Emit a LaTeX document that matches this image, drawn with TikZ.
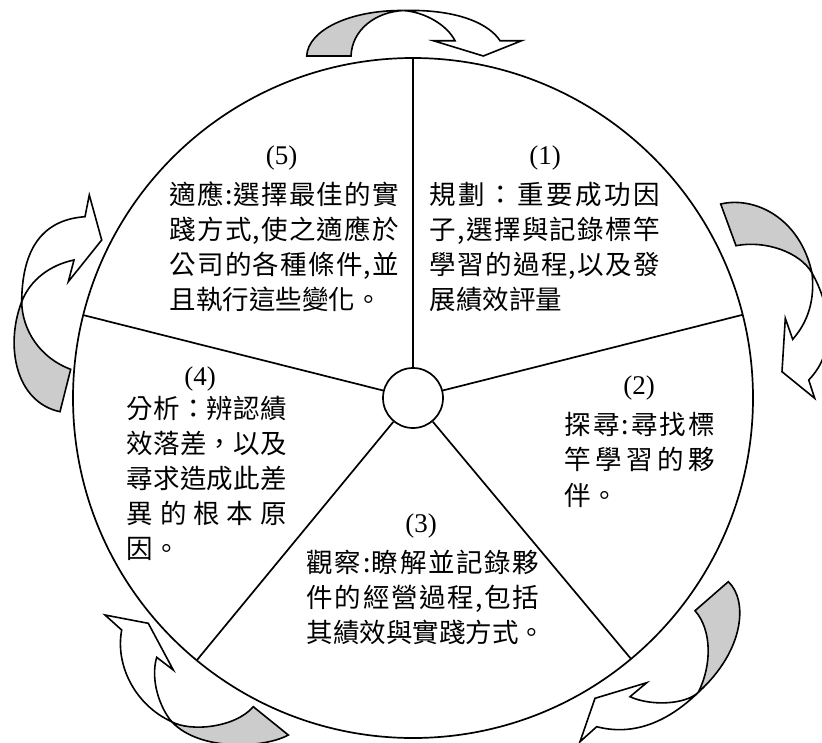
\documentclass[tikz,border=0pt]{standalone}
\usepackage{fontspec}
\setmainfont{Liberation Serif}
\newfontfamily\cjk{Noto Sans CJK TC}
\makeatletter
\def\spr#1#2{\makebox[#1][s]{\spr@a#2\relax}}
\def\spr@a#1{#1\spr@b}
\def\spr@b#1{\ifx\relax#1\else\hfil#1\expandafter\spr@b\fi}
\makeatother
\begin{document}
\begin{tikzpicture}[x=1pt,y=-1pt,line width=1.7pt,
  back/.style={draw=black,fill=black!20,line width=1.6pt},
  front/.style={draw=black,fill=white,line width=1.6pt},
  lbl/.style={font=\fontsize{27}{30}\selectfont,inner sep=0pt,anchor=center},
  txt/.style={font=\cjk\fontsize{26.5}{30}\selectfont,inner sep=0pt,anchor=base west,text=black}]
\useasboundingbox (0,0) rectangle (822,742);
\clip (0,0) rectangle (822,742);
% wheel
\node[circle,draw,minimum size=680pt,inner sep=0pt] (rim) at (413,398) {};
\node[circle,draw,minimum size=60pt,inner sep=0pt] (hub) at (413,398) {};
\coordinate (e1) at (413,58);
\coordinate (e2) at (742.6,314.8);
\coordinate (e3) at (631,658.9);
\coordinate (e4) at (197,660);
\coordinate (e5) at (83.3,315.1);
\foreach \e in {e1,e2,e3,e4,e5} \draw (hub) -- (\e);
% top arrow
\path[back] (306.7,56) .. controls (308,30) and (350,10) .. (403.3,10.5)
  .. controls (375,12) and (352,30) .. (351,56) -- cycle;
\path[front] (403.3,10.5) .. controls (460,9) and (490,25) .. (500,40.7)
  -- (521.7,40.7) -- (483.3,56) -- (433.3,40.7) -- (455,40.7)
  .. controls (447,25) and (425,12) .. (403.3,10.5) -- cycle;
% right arrow
\path[back] (720.7,204) .. controls (755,196) and (800,218) .. (812,273)
  .. controls (800,252) and (765,240) .. (736,245.7) -- cycle;
\path[front] (812,273) .. controls (830,305) and (838,350) .. (808.7,380)
  -- (814.7,398.3) -- (782,371.7) -- (785.3,318.3) -- (792.7,339.3)
  .. controls (808,322) and (815,300) .. (812,273) -- cycle;
% bottom-right arrow
\path[back] (728.3,581.7) .. controls (748,600) and (745,650) .. (698.3,692.3)
  .. controls (712,665) and (712,630) .. (695,610.7) -- cycle;
\path[front] (698.3,692.3) .. controls (675,715) and (640,738) .. (596.7,726.7)
  -- (580,741.7) -- (595,698.3) -- (646.7,682.7) -- (630,696.7)
  .. controls (650,706) and (685,705) .. (698.3,692.3) -- cycle;
% bottom-left arrow
\path[back] (171.7,721.7) .. controls (190,732) and (235,728) .. (253.3,706.7)
  -- (288.3,735) .. controls (265,748) and (200,752) .. (171.7,721.7) -- cycle;
\path[front] (171.7,721.7) .. controls (160,708) and (150,680) .. (156.7,657.3)
  -- (173.3,670) -- (148.3,623.3) -- (105,615) -- (121.7,630)
  .. controls (115,665) and (135,705) .. (171.7,721.7) -- cycle;
% left arrow
\path[back] (60,411.7) .. controls (15,402) and (5,345) .. (21.7,301.7)
  .. controls (22,330) and (40,358) .. (70.7,369.3) -- cycle;
\path[front] (21.7,301.7) .. controls (22,255) and (38,220) .. (85,216.7)
  -- (89.3,195) -- (101.7,240) -- (68.3,281.7) -- (74,260)
  .. controls (50,265) and (30,280) .. (21.7,301.7) -- cycle;
% labels
\node[lbl] (n5) at (281.7,158.5) {(5)};
\node[lbl] (n1) at (545,158.5) {(1)};
\node[lbl] (n2) at (639,388.5) {(2)};
\node[lbl] (n4) at (200,379.5) {(4)};
\node[lbl] (n3) at (421,526) {(3)};
% block 5
\node[txt] (t51) at (169,204) {\spr{229pt}{適應:選擇最佳的實}};
\node[txt] (t52) at (169,239) {\spr{229pt}{踐方式,使之適應於}};
\node[txt] (t53) at (169,274) {\spr{229pt}{公司的各種條件,並}};
\node[txt] (t54) at (169,309) {且執行這些變化。};
% block 1
\node[txt] (t11) at (429,204) {\spr{230pt}{規劃：重要成功因}};
\node[txt] (t12) at (429,239) {\spr{230pt}{子,選擇與記錄標竿}};
\node[txt] (t13) at (429,274) {\spr{230pt}{學習的過程,以及發}};
\node[txt] (t14) at (429,309) {展績效評量};
% block 2
\node[txt] (t21) at (564,434) {\spr{150pt}{探尋:尋找標}};
\node[txt] (t22) at (564,469.5) {\spr{150pt}{竿學習的夥}};
\node[txt] (t23) at (564,505) {伴。};
% block 4
\node[txt] (t41) at (126,418.3) {\spr{160pt}{分析：辨認績}};
\node[txt] (t42) at (126,453.3) {\spr{160pt}{效落差，以及}};
\node[txt] (t43) at (126,488.3) {\spr{160pt}{尋求造成此差}};
\node[txt] (t44) at (126,523.3) {\spr{160pt}{異的根本原}};
\node[txt] (t45) at (126,558.3) {因。};
% block 3
\node[txt] (t31) at (306,572) {\spr{232pt}{觀察:瞭解並記錄夥}};
\node[txt] (t32) at (306,607) {\spr{232pt}{件的經營過程,包括}};
\node[txt] (t33) at (306,642) {其績效與實踐方式。};
\end{tikzpicture}
\end{document}
